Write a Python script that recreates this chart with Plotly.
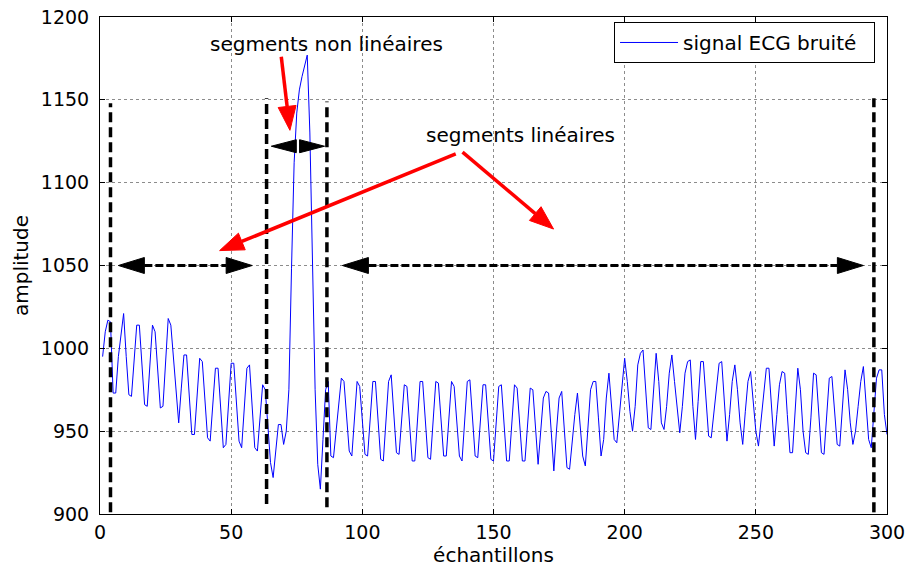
import math
import plotly.graph_objects as go

# ---------------- data ----------------
sample_index = list(range(1, 301))
ecg_amplitude = [
    995, 1010, 1017, 1016, 973, 973, 995, 1008, 1021, 995,
    972, 971, 993, 1014, 1014, 990, 966, 965, 990, 1014,
    1010, 987, 964, 965, 992, 1018, 1014, 993, 972, 955,
    976, 996, 996, 972, 948, 948, 972, 994, 992, 968,
    946, 944, 966, 988, 988, 964, 940, 942, 966, 991,
    991, 967, 944, 940, 965, 988, 990, 964, 940, 938,
    958, 978, 975, 952, 931, 922, 938, 954, 954, 942,
    950, 975, 1048, 1112, 1142, 1156, 1164, 1170, 1177, 1130,
    1045, 975, 930, 915, 945, 975, 980, 935, 934, 950,
    966, 982, 980, 958, 938, 935, 958, 980, 977, 956,
    936, 935, 958, 980, 980, 956, 933, 932, 958, 980,
    984, 960, 937, 936, 958, 978, 977, 954, 932, 932,
    956, 980, 980, 957, 934, 933, 956, 980, 979, 957,
    935, 935, 958, 980, 977, 956, 935, 932, 956, 980,
    981, 958, 935, 934, 956, 978, 978, 955, 933, 932,
    955, 977, 978, 955, 932, 932, 955, 978, 976, 954,
    932, 932, 955, 976, 975, 953, 930, 950, 970, 974,
    973, 950, 926, 950, 970, 974, 950, 928, 927, 945,
    960, 973, 955, 935, 929, 950, 975, 980, 980, 958,
    935, 945, 970, 985, 965, 945, 943, 960, 978, 994,
    980, 962, 950, 965, 990, 997, 999, 975, 952, 951,
    975, 997, 980, 955, 951, 965, 985, 996, 980, 962,
    949, 965, 985, 992, 993, 965, 945, 968, 992, 992,
    968, 947, 946, 962, 978, 991, 992, 965, 944, 960,
    980, 990, 975, 955, 942, 962, 980, 986, 970, 950,
    941, 958, 975, 988, 988, 962, 941, 960, 978, 986,
    985, 960, 937, 937, 962, 988, 975, 950, 937, 936,
    958, 985, 984, 960, 937, 936, 958, 982, 983, 962,
    942, 941, 965, 987, 975, 955, 942, 950, 965, 980,
    989, 968, 945, 940, 962, 982, 987, 987, 960, 948,
]

x_ticks = [0, 50, 100, 150, 200, 250, 300]
y_ticks = [900, 950, 1000, 1050, 1100, 1150, 1200]

# segment boundaries (dashed vertical lines)
boundary_x = [4, 63.5, 86.5, 295]
boundary_top = [1148, 1151, 1149, 1151]
boundary_bottom = [901, 906, 904, 901]

# black double arrows: left tip x, right tip x, y, dashed shaft?
black_left_tip = [7, 92.4, 65.3]
black_right_tip = [58, 291, 85.6]
black_arrow_y = [1050, 1050, 1122]
black_has_shaft = [True, True, False]

# red arrows: tail (x, y) -> tip (x, y)
red_tail_x = [69.1, 135.6, 138.2]
red_tail_y = [1176, 1117.4, 1118.4]
red_tip_x = [72.4, 45.6, 172.9]
red_tip_y = [1131.6, 1059, 1072]

label_texts = ["segments non linéaires", "segments linéaires"]
label_x = [86.4, 160.4]
label_y = [1183.5, 1129]

# ---------------- layout geometry ----------------
W, H = 907, 568
ML, MR, MT, MB = 100, 20, 17, 54
X_RANGE = [0, 300]
Y_RANGE = [900, 1200]
SX = (W - ML - MR) / (X_RANGE[1] - X_RANGE[0])
SY = (H - MT - MB) / (Y_RANGE[1] - Y_RANGE[0])

FONT = "DejaVu Sans"


def head_polygon(tail, tip, length, half):
    dx = (tip[0] - tail[0]) * SX
    dy = (tip[1] - tail[1]) * SY
    n = math.hypot(dx, dy)
    ux, uy = dx / n, dy / n
    bx, by = -ux * length, -uy * length
    nx, ny = -uy * half, ux * half
    pts = [(0, 0), (bx + nx, by + ny), (bx - nx, by - ny), (0, 0)]
    xs = [tip[0] + p[0] / SX for p in pts]
    ys = [tip[1] + p[1] / SY for p in pts]
    base = (tip[0] + bx / SX, tip[1] + by / SY)
    return xs, ys, base


fig = go.Figure()

fig.add_trace(go.Scatter(
    x=sample_index, y=ecg_amplitude, mode="lines",
    line=dict(color="#0000ff", width=1),
    name="signal ECG bruité\u00a0\u00a0", showlegend=True,
))

# dashed vertical boundaries
for bx, bt, bb in zip(boundary_x, boundary_top, boundary_bottom):
    fig.add_trace(go.Scatter(
        x=[bx, bx], y=[bb, bt], mode="lines",
        line=dict(color="black", width=3.5, dash="10px,5px"),
        showlegend=False, hoverinfo="skip",
    ))

# black double arrows
for xl, xr, ya, shaft in zip(black_left_tip, black_right_tip, black_arrow_y, black_has_shaft):
    length = 26 if shaft else 25
    half = 8 if shaft else 6.5
    lx, ly, lbase = head_polygon((xr, ya), (xl, ya), length, half)
    rx, ry, rbase = head_polygon((xl, ya), (xr, ya), length, half)
    if shaft:
        fig.add_trace(go.Scatter(
            x=[lbase[0], rbase[0]], y=[ya, ya], mode="lines",
            line=dict(color="black", width=3, dash="8px,3px"),
            showlegend=False, hoverinfo="skip",
        ))
    for hx, hy in ((lx, ly), (rx, ry)):
        fig.add_trace(go.Scatter(
            x=hx, y=hy, mode="lines", fill="toself",
            fillcolor="black", line=dict(color="black", width=1),
            showlegend=False, hoverinfo="skip",
        ))

# red arrows
for tx, ty, px, py in zip(red_tail_x, red_tail_y, red_tip_x, red_tip_y):
    hx, hy, base = head_polygon((tx, ty), (px, py), 24, 9)
    fig.add_trace(go.Scatter(
        x=[tx, base[0]], y=[ty, base[1]], mode="lines",
        line=dict(color="#ff0000", width=3.5),
        showlegend=False, hoverinfo="skip",
    ))
    fig.add_trace(go.Scatter(
        x=hx, y=hy, mode="lines", fill="toself",
        fillcolor="#ff0000", line=dict(color="#ff0000", width=1),
        showlegend=False, hoverinfo="skip",
    ))

for t, lx, ly in zip(label_texts, label_x, label_y):
    fig.add_annotation(
        x=lx, y=ly, xref="x", yref="y", text=t, showarrow=False,
        font=dict(family=FONT, size=20, color="black"),
        xanchor="center", yanchor="middle",
    )

axis_common = dict(
    showline=True, linecolor="black", linewidth=1, mirror="allticks",
    ticks="inside", ticklen=5, tickcolor="black", tickwidth=1,
    showgrid=True, gridcolor="#8c8c8c", gridwidth=1, griddash="dot",
    zeroline=False, tickfont=dict(family=FONT, size=19, color="black"),
    automargin=False, ticklabeloverflow="allow",
)

fig.update_xaxes(
    range=X_RANGE, tickvals=x_ticks, ticktext=[str(v) for v in x_ticks],
    title=dict(text="échantillons", font=dict(family=FONT, size=20, color="black"), standoff=0),
    ticklabelstandoff=1,
    **axis_common,
)
fig.update_yaxes(
    range=Y_RANGE, tickvals=y_ticks, ticktext=[str(v) for v in y_ticks],
    title=dict(text="amplitude", font=dict(family=FONT, size=20, color="black"), standoff=6),
    ticklabelstandoff=6,
    **axis_common,
)

fig.update_layout(
    width=W, height=H,
    margin=dict(l=ML, r=MR, t=MT, b=MB, pad=0),
    paper_bgcolor="white", plot_bgcolor="white",
    font=dict(family=FONT, size=19, color="black"),
    legend=dict(
        x=0.9848, y=0.99, xanchor="right", yanchor="top",
        bgcolor="white", bordercolor="black", borderwidth=1,
        font=dict(family=FONT, size=20, color="black"),
        itemwidth=58,
    ),
)

fig.write_html(
    "out.html",
    config={"displayModeBar": False},
    post_script="document.body.style.margin='0';document.body.style.padding='0';",
)
